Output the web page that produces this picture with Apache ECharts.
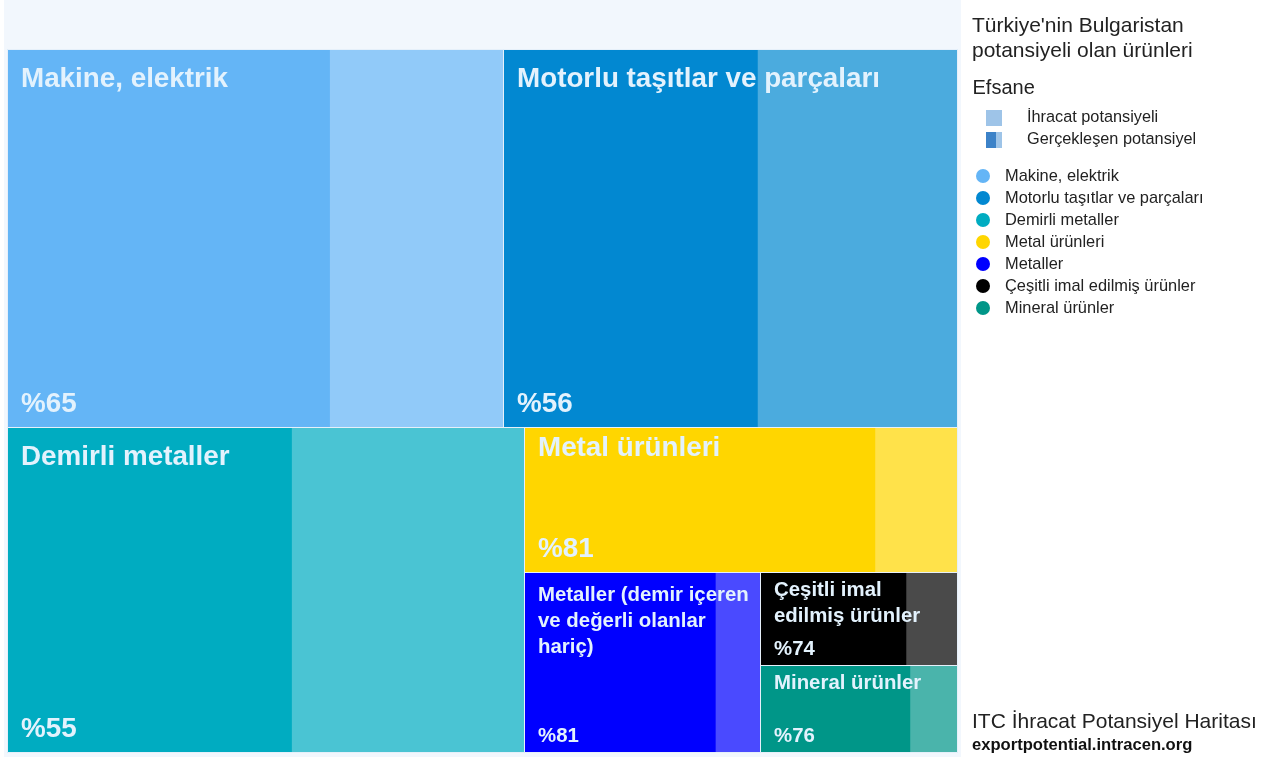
<!DOCTYPE html>
<html>
<head>
<meta charset="utf-8">
<script src="https://cdn.jsdelivr.net/npm/echarts@6/dist/echarts.min.js"></script>
<style>
  html, body { margin: 0; padding: 0; background: #ffffff; }
  #chart { width: 1276px; height: 757px; }
</style>
</head>
<body>
<div id="chart"></div>
<script>
// Product groups with export potential from Türkiye to Bulgaria
const sectors = ['Makine, elektrik', 'Motorlu taşıtlar ve parçaları', 'Demirli metaller', 'Metal ürünleri', 'Metaller', 'Çeşitli imal edilmiş ürünler', 'Mineral ürünler'];
// Tile captions (line breaks where the narrow tiles wrap them)
const tileTitles = ['Makine, elektrik', 'Motorlu taşıtlar ve parçaları', 'Demirli metaller', 'Metal ürünleri', 'Metaller (demir içeren\nve değerli olanlar\nhariç)', 'Çeşitli imal\nedilmiş ürünler', 'Mineral ürünler'];
// Export potential per group (relative size of each tile)
const potential = [280.7, 257.0, 251.6, 94.0, 63.6, 27.4, 25.7];
// Share of the potential already realised, in percent
const realizedPct = [65, 56, 55, 81, 81, 74, 76];
const sectorColors = ['#64b5f6', '#0288d1', '#00acc1', '#ffd600', '#0000ff', '#000000', '#009688'];

const FONT = "'Liberation Sans', Arial, sans-serif";
const LABEL_COLOR = '#e3f2fd';

// Blend a colour toward white
function lighten(hex, t) {
  const n = parseInt(hex.slice(1), 16);
  const ch = [(n >> 16) & 255, (n >> 8) & 255, n & 255].map(c => Math.round(c + (255 - c) * t));
  return 'rgb(' + ch.join(',') + ')';
}

// Binary treemap in the unit square: split the sorted list where the running
// total is closest to half, alternating horizontal and vertical cuts by depth.
function partition(items, x0, y0, x1, y1, horizontalCut, out) {
  if (items.length === 1) {
    out[items[0].index] = [x0, y0, x1, y1];
    return;
  }
  const total = items.reduce((s, d) => s + d.value, 0);
  let acc = 0, k = 1, best = Infinity, leftSum = 0;
  for (let i = 1; i < items.length; i++) {
    acc += items[i - 1].value;
    const d = Math.abs(acc - total / 2);
    if (d < best) { best = d; k = i; leftSum = acc; }
  }
  const f = leftSum / total;
  if (horizontalCut) {
    const ym = y0 + (y1 - y0) * f;
    partition(items.slice(0, k), x0, y0, x1, ym, false, out);
    partition(items.slice(k), x0, ym, x1, y1, false, out);
  } else {
    const xm = x0 + (x1 - x0) * f;
    partition(items.slice(0, k), x0, y0, xm, y1, true, out);
    partition(items.slice(k), xm, y0, x1, y1, true, out);
  }
}

const ordered = potential.map((v, i) => ({ value: v, index: i })).sort((a, b) => b.value - a.value);
const cells = [];
partition(ordered, 0, 0, 1, 1, true, cells);

function snap(v) { return Math.round(v - 0.5) + 0.5; }

function renderTile(params, api) {
  const i = api.value(4);
  const a = api.coord([api.value(0), api.value(1)]);
  const b = api.coord([api.value(2), api.value(3)]);
  const x = snap(a[0]), y = snap(a[1]);
  const w = snap(b[0]) - x, h = snap(b[1]) - y;
  const pct = realizedPct[i];
  const dark = sectorColors[i];
  const big = w > 300;
  const fs = big ? 27.8 : 20.4;
  const lh = 26 * (big ? 1.36 : 1);
  const padTop = Math.min(30, 13.5 + 0.05 * h);
  const padBottom = big ? fs * 0.85 : 16;
  const font = 'bold ' + fs + 'px ' + FONT;
  return {
    type: 'group',
    children: [
      { type: 'rect', shape: { x: x, y: y, width: w, height: h }, style: { fill: lighten(dark, 0.29) } },
      { type: 'rect', shape: { x: x, y: y, width: w * pct / 100, height: h }, style: { fill: dark } },
      { type: 'rect', z2: 10, shape: { x: x, y: y, width: w, height: h }, style: { fill: null, stroke: '#e6f0fa', lineWidth: 1 } },
      {
        type: 'text', z2: 20,
        style: {
          text: tileTitles[i], x: x + 13.5, y: y + padTop - lh / 2,
          font: font, fill: LABEL_COLOR,
          lineHeight: lh, align: 'left', verticalAlign: 'top'
        }
      },
      {
        type: 'text', z2: 20,
        style: {
          text: '%' + pct, x: x + 13.5, y: y + h - padBottom,
          font: font, fill: LABEL_COLOR, align: 'left', verticalAlign: 'middle'
        }
      }
    ]
  };
}

const series = sectors.map((name, i) => ({
  type: 'custom',
  name: name,
  coordinateSystem: 'cartesian2d',
  itemStyle: { color: sectorColors[i] },
  renderItem: renderTile,
  data: [[cells[i][0], cells[i][1], cells[i][2], cells[i][3], i]]
}));

const chart = echarts.init(document.getElementById('chart'), null, { renderer: 'canvas' });
chart.setOption({
  animation: false,
  title: {
    text: "Türkiye'nin Bulgaristan\npotansiyeli olan ürünleri",
    left: 972, top: 13.5, padding: 0,
    textStyle: { fontSize: 21, fontWeight: 'normal', color: '#222', lineHeight: 25, fontFamily: FONT }
  },
  grid: { left: 7.5, top: 49.5, width: 950, height: 703 },
  xAxis: { type: 'value', min: 0, max: 1, show: false },
  yAxis: { type: 'value', min: 0, max: 1, inverse: true, show: false },
  legend: {
    data: sectors,
    orient: 'vertical',
    left: 971, top: 163,
    itemWidth: 34, itemHeight: 14, itemGap: 6,
    icon: 'circle',
    selectedMode: false,
    textStyle: { fontSize: 16.4, color: '#222', lineHeight: 16, fontFamily: FONT }
  },
  graphic: [
    { type: 'rect', z: -10, silent: true, shape: { x: 4, y: 0, width: 957, height: 757 }, style: { fill: '#f2f7fd' } },
    { type: 'text', x: 972.5, y: 88, style: { text: 'Efsane', font: '20px ' + FONT, fill: '#222', verticalAlign: 'middle' } },
    { type: 'rect', shape: { x: 986, y: 110, width: 16, height: 16 }, style: { fill: '#9ec4e8' } },
    { type: 'rect', shape: { x: 986, y: 132, width: 10, height: 16 }, style: { fill: '#3c82c8' } },
    { type: 'rect', shape: { x: 996, y: 132, width: 6, height: 16 }, style: { fill: '#9ec4e8' } },
    { type: 'text', x: 1027, y: 118, style: { text: 'İhracat potansiyeli', font: '16.3px ' + FONT, fill: '#222', verticalAlign: 'middle' } },
    { type: 'text', x: 1027, y: 140, style: { text: 'Gerçekleşen potansiyel', font: '16.3px ' + FONT, fill: '#222', verticalAlign: 'middle' } },
    { type: 'text', x: 972, y: 722, style: { text: 'ITC İhracat Potansiyel Haritası', font: '21px ' + FONT, fill: '#222', verticalAlign: 'middle' } },
    { type: 'text', x: 972, y: 745, style: { text: 'exportpotential.intracen.org', font: 'bold 16.6px ' + FONT, fill: '#111', verticalAlign: 'middle' } }
  ],
  series: series
});
</script>
</body>
</html>
